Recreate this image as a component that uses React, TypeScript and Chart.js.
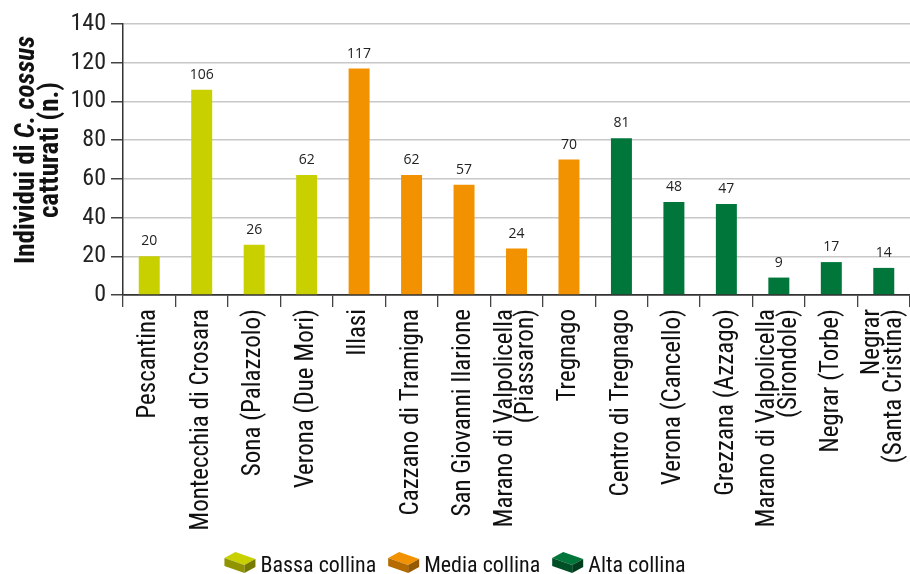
import React, { useEffect, useRef } from "react";
import { Chart, registerables } from "chart.js";

Chart.register(...registerables);

// Sampling sites along the x axis
const categories: (string | string[])[] = [
  "Pescantina",
  "Montecchia di Crosara",
  "Sona (Palazzolo)",
  "Verona (Due Mori)",
  "Illasi",
  "Cazzano di Tramigna",
  "San Giovanni Ilarione",
  ["Marano di Valpolicella", "(Piassaron)"],
  "Tregnago",
  "Centro di Tregnago",
  "Verona (Cancello)",
  "Grezzana (Azzago)",
  ["Marano di Valpolicella", "(Sirondole)"],
  "Negrar (Torbe)",
  ["Negrar", "(Santa Cristina)"],
];

// Individuals caught per site
const catches = [20, 106, 26, 62, 117, 62, 57, 24, 70, 81, 48, 47, 9, 17, 14];

// Hill zone of each site (index into zoneNames)
const siteZone = [0, 0, 0, 0, 1, 1, 1, 1, 1, 2, 2, 2, 2, 2, 2];

const zoneNames = ["Bassa collina", "Media collina", "Alta collina"];
const zoneColors = ["#c9d000", "#f39200", "#00763a"];
const zoneFront = ["#8f9400", "#b56b00", "#004f26"];
const zoneSide = ["#767a00", "#965800", "#003d1d"];

const yTicks = [0, 20, 40, 60, 80, 100, 120, 140];

const FONT = '"Liberation Sans Narrow", "Roboto Condensed", "DejaVu Sans Condensed", sans-serif';

// Centre multi-line rotated category labels on their tick
const centerMultiline = {
  id: "centerMultiline",
  beforeDraw(chart: any) {
    const scale = chart.scales.x;
    const items = scale.getLabelItems();
    items.forEach((item: any) => {
      if (Array.isArray(item.label) && item.label.length > 1 && !item._centered) {
        item.textOffset -= ((item.label.length - 1) * item.font.lineHeight) / 2;
        item._centered = true;
      }
    });
  },
};

// Value printed above every bar
const valueLabels = {
  id: "valueLabels",
  afterDatasetsDraw(chart: any) {
    const ctx = chart.ctx;
    ctx.save();
    ctx.font = '14px "Open Sans", sans-serif';
    ctx.fillStyle = "#222";
    ctx.textAlign = "center";
    ctx.textBaseline = "alphabetic";
    chart.data.datasets.forEach((ds: any, di: number) => {
      const meta = chart.getDatasetMeta(di);
      meta.data.forEach((bar: any, i: number) => {
        const v = ds.data[i];
        if (v === null || v === undefined) return;
        ctx.fillText(String(v), bar.x, bar.y - 11);
      });
    });
    ctx.restore();
  },
};

// Two-line y axis title with the species name in italics
const yTitle = {
  id: "yTitle",
  afterDraw(chart: any) {
    const ctx = chart.ctx;
    const cy = 150;
    const drawLine = (parts: { t: string; italic?: boolean }[], baselineX: number) => {
      ctx.save();
      ctx.translate(baselineX, cy);
      ctx.rotate(-Math.PI / 2);
      const fonts = parts.map((p) => `${p.italic ? "italic " : ""}bold 27px ${FONT}`);
      let total = 0;
      const widths = parts.map((p, i) => {
        ctx.font = fonts[i];
        const w = ctx.measureText(p.t).width;
        total += w;
        return w;
      });
      let x = -total / 2;
      ctx.fillStyle = "#111";
      ctx.textBaseline = "alphabetic";
      ctx.textAlign = "left";
      parts.forEach((p, i) => {
        ctx.font = fonts[i];
        ctx.fillText(p.t, x, 0);
        x += widths[i];
      });
      ctx.restore();
    };
    drawLine([{ t: "Individui di " }, { t: "C. cossus", italic: true }], 34);
    drawLine([{ t: "catturati (n.)" }], 58);
  },
};

// Legend with small 3D brick swatches
const brickLegend = {
  id: "brickLegend",
  afterDraw(chart: any) {
    const ctx = chart.ctx;
    ctx.save();
    ctx.font = `22px ${FONT}`;
    ctx.textBaseline = "alphabetic";
    const iconW = 31;
    const gapIcon = 5;
    const gapItem = 12;
    const items = chart.data.datasets.map((ds: any, i: number) => ({
      label: ds.label,
      i,
      w: iconW + gapIcon + ctx.measureText(ds.label).width,
    }));
    const total = items.reduce((s: number, it: any) => s + it.w, 0) + gapItem * (items.length - 1);
    let x = chart.width / 2 - total / 2;
    const top = 552;
    items.forEach((it: any) => {
      const i = it.i;
      // top face
      ctx.fillStyle = zoneColors[i];
      ctx.beginPath();
      ctx.moveTo(x, top + 6);
      ctx.lineTo(x + 11, top);
      ctx.lineTo(x + iconW, top + 7);
      ctx.lineTo(x + 20, top + 13);
      ctx.closePath();
      ctx.fill();
      // front face
      ctx.fillStyle = zoneFront[i];
      ctx.beginPath();
      ctx.moveTo(x, top + 6);
      ctx.lineTo(x + 20, top + 13);
      ctx.lineTo(x + 20, top + 21);
      ctx.lineTo(x, top + 14);
      ctx.closePath();
      ctx.fill();
      // side face
      ctx.fillStyle = zoneSide[i];
      ctx.beginPath();
      ctx.moveTo(x + 20, top + 13);
      ctx.lineTo(x + iconW, top + 7);
      ctx.lineTo(x + iconW, top + 15);
      ctx.lineTo(x + 20, top + 21);
      ctx.closePath();
      ctx.fill();
      ctx.fillStyle = "#111";
      ctx.textAlign = "left";
      ctx.fillText(it.label, x + iconW + gapIcon, top + 20);
      x += it.w + gapItem;
    });
    ctx.restore();
  },
};

export default function App() {
  const canvasRef = useRef<HTMLCanvasElement | null>(null);

  useEffect(() => {
    document.body.style.margin = "0";
    const canvas = canvasRef.current;
    if (!canvas) return;

    const datasets = zoneNames.map((name, z) => ({
      label: name,
      data: catches.map((v, i) => (siteZone[i] === z ? v : null)),
      backgroundColor: zoneColors[z],
      borderWidth: 0,
      barPercentage: 0.4,
      categoryPercentage: 1,
      grouped: false,
    }));

    const chart = new Chart(canvas, {
      type: "bar",
      data: { labels: categories, datasets },
      options: {
        animation: false,
        responsive: false,
        maintainAspectRatio: false,
        layout: { padding: { top: 24, right: -2, left: 0, bottom: 0 } },
        plugins: {
          legend: { display: false },
          tooltip: { enabled: false },
        },
        scales: {
          x: {
            grid: {
              offset: true,
              drawOnChartArea: false,
              drawTicks: true,
              tickLength: 12,
              tickColor: "#444",
              lineWidth: 1.3,
            },
            border: { display: true, color: "#333", width: 1.5 },
            ticks: {
              autoSkip: false,
              minRotation: 90,
              maxRotation: 90,
              padding: 2,
              color: "#111",
              font: { family: FONT, size: 25, lineHeight: 0.85 },
            },
            afterFit: (scale: any) => {
              scale.height = 279;
              scale.paddingLeft = 0;
              scale.paddingRight = 0;
            },
          },
          y: {
            min: 0,
            max: 140,
            afterBuildTicks: (scale: any) => {
              scale.ticks = yTicks.map((v) => ({ value: v }));
            },
            grid: {
              color: (c: any) => (c.tick && c.tick.value === 0 ? "#333" : "#c8c8c8"),
              lineWidth: 1.5,
              tickColor: "#444",
              tickLength: 12,
            },
            border: { display: true, color: "#333", width: 1.5 },
            ticks: {
              padding: 5,
              color: "#222",
              font: { family: FONT, size: 24 },
            },
            afterFit: (scale: any) => {
              scale.width = 123;
            },
          },
        },
      },
      plugins: [centerMultiline, valueLabels, yTitle, brickLegend],
    });

    return () => chart.destroy();
  }, []);

  return (
    <div style={{ width: 910, height: 574 }}>
      <canvas ref={canvasRef} width={910} height={574} />
    </div>
  );
}
